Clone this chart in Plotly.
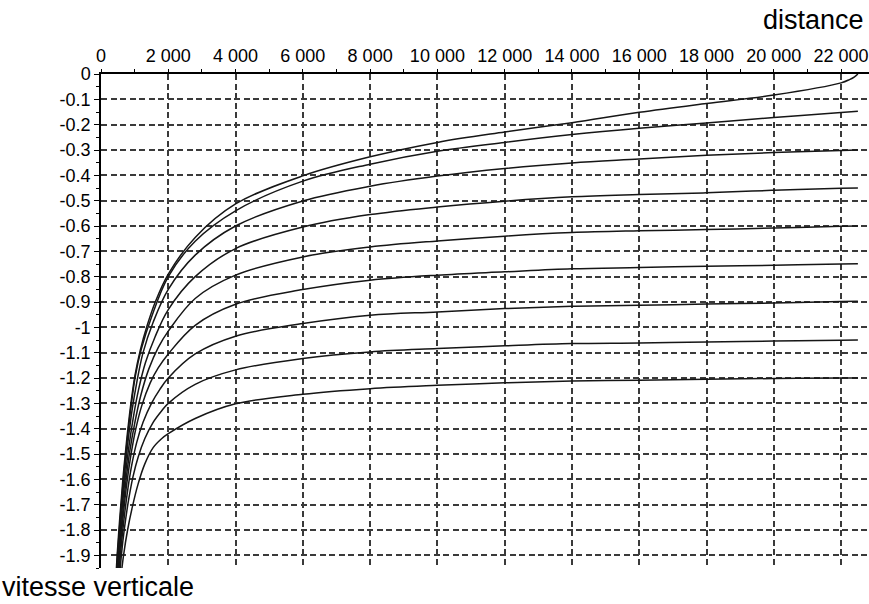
import plotly.graph_objects as go

# ---- data ----
tail_x = [2000, 2800, 4000, 6000, 8000, 10000, 12000, 14000, 16000, 18000, 20000, 22000, 22500]

c1_x = [440, 480, 560, 650, 760, 880, 1010, 1168, 1367, 1614] + tail_x[:-1] + [22250, 22400, 22500]
c1_y = [-2.0, -1.9, -1.75, -1.6, -1.45, -1.31, -1.19, -1.09, -0.995, -0.9,
        -0.79, -0.645, -0.513, -0.402, -0.327, -0.270, -0.229, -0.192, -0.151, -0.116, -0.083, -0.035,
        -0.022, -0.011, 0.0]

c2_x = [450, 490, 575, 665, 775, 895, 1025, 1200, 1500] + tail_x
c2_y = [-2.0, -1.9, -1.75, -1.6, -1.45, -1.31, -1.19, -1.085, -0.96,
        -0.80, -0.66, -0.54, -0.423, -0.356, -0.305, -0.270, -0.239, -0.214, -0.193, -0.172, -0.152, -0.147]

c3_x = [460, 505, 590, 685, 795, 920, 1060, 1250, 1550] + tail_x
c3_y = [-2.0, -1.9, -1.75, -1.6, -1.46, -1.33, -1.22, -1.10, -0.98,
        -0.85, -0.715, -0.600, -0.501, -0.443, -0.403, -0.373, -0.351, -0.336, -0.321, -0.310, -0.302, -0.300]

c4_x = [470, 515, 605, 705, 820, 955, 1110, 1320, 1600] + tail_x
c4_y = [-2.0, -1.9, -1.75, -1.61, -1.48, -1.36, -1.25, -1.14, -1.04,
        -0.93, -0.80, -0.689, -0.604, -0.555, -0.525, -0.502, -0.485, -0.476, -0.469, -0.459, -0.451, -0.450]

c5_x = [485, 535, 625, 730, 855, 1000, 1180, 1420, 1700] + tail_x
c5_y = [-2.0, -1.9, -1.76, -1.62, -1.49, -1.38, -1.27, -1.165, -1.08,
        -1.015, -0.886, -0.794, -0.722, -0.683, -0.659, -0.640, -0.626, -0.619, -0.614, -0.608, -0.601, -0.600]

c6_x = [500, 550, 640, 745, 870, 1020, 1210, 1460, 1700] + tail_x
c6_y = [-2.0, -1.9, -1.77, -1.64, -1.52, -1.41, -1.31, -1.22, -1.16,
        -1.105, -0.992, -0.909, -0.851, -0.814, -0.794, -0.781, -0.769, -0.764, -0.759, -0.755, -0.750, -0.749]

c7_x = [520, 575, 665, 775, 905, 1060, 1250, 1500, 1750] + tail_x
c7_y = [-2.0, -1.9, -1.78, -1.66, -1.55, -1.455, -1.375, -1.30, -1.245,
        -1.20, -1.105, -1.035, -0.985, -0.952, -0.939, -0.926, -0.917, -0.913, -0.908, -0.904, -0.898, -0.897]

c8_x = [545, 605, 700, 815, 950, 1110, 1300, 1550, 1800] + tail_x
c8_y = [-2.0, -1.9, -1.79, -1.685, -1.59, -1.51, -1.44, -1.375, -1.33,
        -1.30, -1.225, -1.168, -1.123, -1.097, -1.084, -1.073, -1.064, -1.062, -1.058, -1.054, -1.051, -1.050]

c9_x = [580, 670, 790, 930, 1100, 1300, 1550, 1800] + tail_x
c9_y = [-2.0, -1.9, -1.8, -1.71, -1.62, -1.54, -1.475, -1.44,
        -1.42, -1.36, -1.302, -1.264, -1.242, -1.229, -1.219, -1.212, -1.209, -1.205, -1.202, -1.200, -1.200]

curves = [(c1_x, c1_y), (c2_x, c2_y), (c3_x, c3_y), (c4_x, c4_y), (c5_x, c5_y),
          (c6_x, c6_y), (c7_x, c7_y), (c8_x, c8_y), (c9_x, c9_y)]

x_tick_vals = [0, 2000, 4000, 6000, 8000, 10000, 12000, 14000, 16000, 18000, 20000, 22000]
x_tick_text = ["0", "2 000", "4 000", "6 000", "8 000", "10 000", "12 000", "14 000",
               "16 000", "18 000", "20 000", "22 000"]
y_tick_vals = [0, -0.1, -0.2, -0.3, -0.4, -0.5, -0.6, -0.7, -0.8, -0.9, -1.0,
               -1.1, -1.2, -1.3, -1.4, -1.5, -1.6, -1.7, -1.8, -1.9]
y_tick_text = ["0", "-0.1", "-0.2", "-0.3", "-0.4", "-0.5", "-0.6", "-0.7", "-0.8", "-0.9", "-1",
               "-1.1", "-1.2", "-1.3", "-1.4", "-1.5", "-1.6", "-1.7", "-1.8", "-1.9"]

x_title = "distance"
y_title = "vitesse verticale"

# ---- figure ----
fig = go.Figure()
for cx, cy in curves:
    fig.add_trace(go.Scatter(x=cx, y=cy, mode="lines",
                             line=dict(color="#161616", width=1.5, shape="spline", smoothing=1.0),
                             showlegend=False, hoverinfo="skip"))

font_family = "Liberation Sans, Arial, sans-serif"
grid_col = "#3a3a3a"

fig.update_layout(
    width=869, height=604,
    margin=dict(l=101, r=0, t=74, b=36, autoexpand=False),
    paper_bgcolor="white", plot_bgcolor="white",
    font=dict(family=font_family, size=18, color="black"),
    showlegend=False,
    xaxis=dict(
        side="top", range=[0, 22830], showline=True, linecolor="black", linewidth=1.5,
        tickmode="array", tickvals=x_tick_vals, ticktext=x_tick_text,
        ticks="outside", ticklen=3, tickcolor="black", tickwidth=1,
        showgrid=True, gridcolor=grid_col, gridwidth=2, griddash="6px,3.5px",
        zeroline=False, tickfont=dict(size=18, color="black"), automargin=False,
        minor=dict(tickmode="linear", tick0=0, dtick=1000, ticks="outside", ticklen=3,
                   tickcolor="black", showgrid=False),
        fixedrange=True,
    ),
    yaxis=dict(
        range=[-1.95, 0], showline=True, linecolor="black", linewidth=1.5,
        tickmode="array", tickvals=y_tick_vals, ticktext=y_tick_text,
        ticks="outside", ticklen=5, tickcolor="black", tickwidth=1,
        showgrid=True, gridcolor=grid_col, gridwidth=2, griddash="6px,3.5px",
        zeroline=False, tickfont=dict(size=18, color="black"), automargin=False,
        minor=dict(tickmode="linear", tick0=0, dtick=0.05, ticks="outside", ticklen=3,
                   tickcolor="black", showgrid=False),
        fixedrange=True,
    ),
    annotations=[
        dict(text=x_title, xref="paper", yref="paper", x=0.996, y=1.109,
             xanchor="right", yanchor="middle", showarrow=False,
             font=dict(size=27, family=font_family, color="black")),
        dict(text=y_title, xref="paper", yref="paper", x=-0.131, y=-0.0385,
             xanchor="left", yanchor="middle", showarrow=False,
             font=dict(size=27, family=font_family, color="black")),
    ],
)

fig.write_html("out.html",
               config={"displayModeBar": False},
               post_script="document.body.style.margin='0px';document.body.style.overflow='hidden';")
